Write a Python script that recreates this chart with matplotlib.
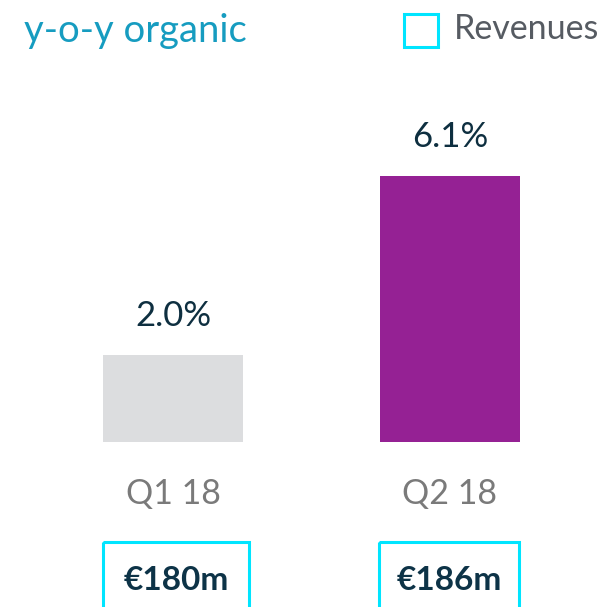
import matplotlib.pyplot as plt
from matplotlib.patches import Rectangle

plt.rcParams['font.family'] = ['Lato', 'DejaVu Sans']

# data
quarters = ['Q1 18', 'Q2 18']
growth = [2.0, 6.1]
revenues = ['€180m', '€186m']
bar_colors = ['#dcdddf', '#952194']

W, H = 604, 607
fig = plt.figure(figsize=(W / 100, H / 100), dpi=100)

# main axes: bars, mapped so the baseline sits at ~442px from top
ax = fig.add_axes([0, 0, 1, 1])
px_per_unit = 43.55
base_from_bottom = H - 442
ax.set_ylim(-base_from_bottom / px_per_unit, (H - base_from_bottom) / px_per_unit)
x0, step = 173, 277
ax.set_xlim(-x0 / step, (W - x0) / step)
ax.axis('off')

pos = list(range(len(quarters)))
ax.bar(pos, growth, width=140 / step, color=bar_colors)
for x, v in zip(pos, growth):
    ax.text(x, v + 0.9, f'{v:.1f}%', ha='center', va='center',
            fontsize=25, color='#0e2f40')
    ax.text(x, -1.2, quarters[x], ha='center', va='center',
            fontsize=24.5, color='#7a7a7a')

# overlay in pixel coords for headings and boxes
ov = fig.add_axes([0, 0, 1, 1])
ov.set_xlim(0, W)
ov.set_ylim(H, 0)
ov.axis('off')
ov.patch.set_alpha(0)

ov.text(24, 31, 'y-o-y organic', ha='left', va='center',
        fontsize=27.5, color='#169cc0')
ov.add_patch(Rectangle((404, 14), 34, 33, fill=False, edgecolor='#00e5ff', lw=2.2))
ov.text(454, 29, 'Revenues', ha='left', va='center',
        fontsize=24.5, color='#565b62')

box_x = [(103, 146), (379, 140)]
for (bx, bw), label in zip(box_x, revenues):
    ov.add_patch(Rectangle((bx, 542), bw, 80, fill=False,
                           edgecolor='#00e5ff', lw=2.2))
    ov.text(bx + bw / 2, 580, label, ha='center', va='center',
            fontsize=24, fontweight='bold', color='#0d3347')

fig.savefig('out.png', dpi=100)
